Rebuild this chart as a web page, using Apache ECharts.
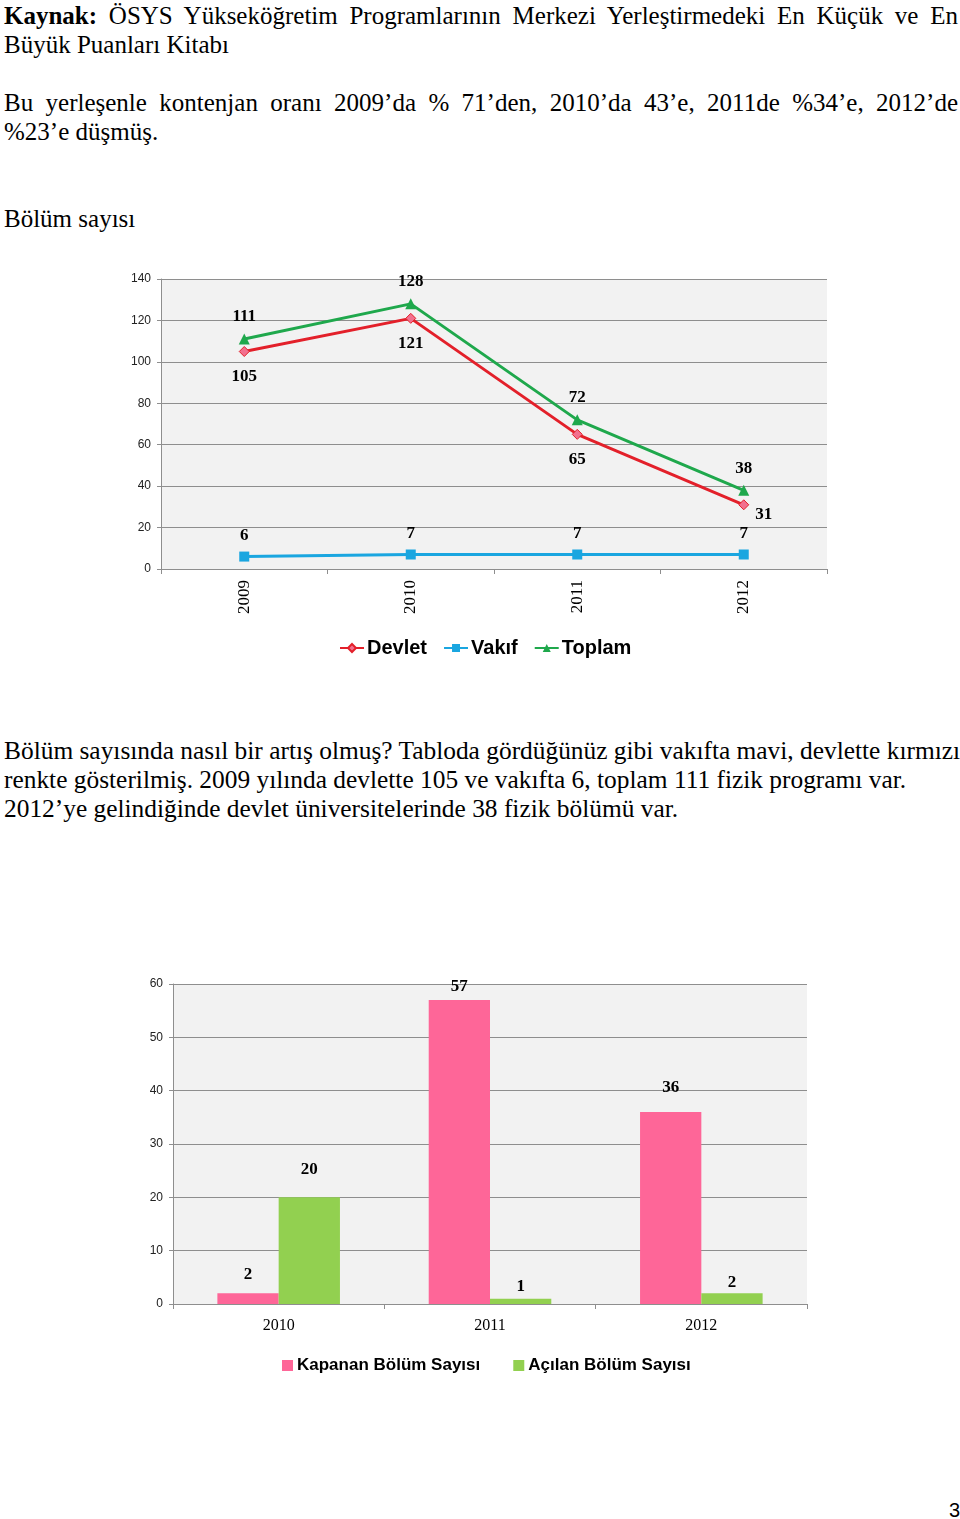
<!DOCTYPE html>
<html>
<head>
<meta charset="utf-8">
<script src="https://cdn.jsdelivr.net/npm/echarts@6/dist/echarts.min.js"></script>
<style>
  html, body { margin:0; padding:0; background:#fff; }
  body { width:960px; height:1519px; position:relative; overflow:hidden; }
  .t { position:absolute; left:4px; width:954px; font-family:"Liberation Serif","Times New Roman",serif; font-size:25px; line-height:29px; color:#000; white-space:nowrap; }
  .b { font-size:25.4px; }
  .j { text-align:justify; text-align-last:justify; white-space:normal; }
  #c1 { position:absolute; left:0; top:260px; width:960px; height:420px; }
  #c2 { position:absolute; left:0; top:960px; width:960px; height:430px; }
  .pn { position:absolute; left:949px; top:1499px; font-family:"Liberation Sans",Arial,sans-serif; font-size:20px; }
</style>
</head>
<body>
<div class="t j" style="top:1px;"><b>Kaynak:</b> ÖSYS Yükseköğretim Programlarının Merkezi Yerleştirmedeki En Küçük ve En</div>
<div class="t" style="top:30px;">Büyük Puanları Kitabı</div>
<div class="t j" style="top:88px;">Bu yerleşenle kontenjan oranı 2009’da % 71’den, 2010’da 43’e, 2011de %34’e, 2012’de</div>
<div class="t" style="top:117px;">%23’e düşmüş.</div>
<div class="t" style="top:204px;">Bölüm sayısı</div>
<div id="c1"></div>
<div class="t b" style="top:736px;">Bölüm sayısında nasıl bir artış olmuş? Tabloda gördüğünüz gibi vakıfta mavi, devlette kırmızı</div>
<div class="t b" style="top:765px;">renkte gösterilmiş. 2009 yılında devlette 105 ve vakıfta 6, toplam 111 fizik programı var.</div>
<div class="t b" style="top:794px;">2012’ye gelindiğinde devlet üniversitelerinde 38 fizik bölümü var.</div>
<div id="c2"></div>
<div class="pn">3</div>
<script>
// ---- Chart 1 data ----
var years1 = ['2009', '2010', '2011', '2012'];
var devlet = [105, 121, 65, 31];
var vakif = [6, 7, 7, 7];
var toplam = [111, 128, 72, 38];
var yTicks1 = { min: 0, max: 140, interval: 20 };

// ---- Chart 2 data ----
var years2 = ['2010', '2011', '2012'];
var kapanan = [2, 57, 36];
var acilan = [20, 1, 2];
var yTicks2 = { min: 0, max: 60, interval: 10 };

var serif = '"Liberation Serif","Times New Roman",serif';
var sans = '"Liberation Sans",Arial,sans-serif';
var legendFont = '"Liberation Sans",Arial,sans-serif';
var gridCol = '#8e8e8e';
var axisCol = '#8e8e8e';

var valLabel = { show: true, fontFamily: serif, fontWeight: 'bold', fontSize: 17, color: '#000' };

var c1 = echarts.init(document.getElementById('c1'), null, { renderer: 'canvas' });
c1.setOption({
  animation: false,
  grid: { left: 161, top: 19, width: 666, height: 290, show: true, backgroundColor: '#f2f2f2', borderWidth: 0 },
  legend: {
    top: 373, left: 334, itemWidth: 24, itemHeight: 10, itemGap: 16,
    textStyle: { fontFamily: legendFont, fontWeight: 'bold', fontSize: 20, color: '#000', padding: [0, 0, 0, -2] },
    data: ['Devlet', 'Vakıf', 'Toplam']
  },
  xAxis: {
    type: 'category', data: years1, boundaryGap: true,
    axisLine: { lineStyle: { color: axisCol } },
    axisTick: { show: true, length: 5, lineStyle: { color: axisCol } },
    axisLabel: { rotate: 90, margin: 11, fontFamily: serif, fontSize: 17, color: '#000' }
  },
  yAxis: {
    type: 'value', min: yTicks1.min, max: yTicks1.max, interval: yTicks1.interval,
    axisLine: { show: true, lineStyle: { color: axisCol } },
    axisTick: { show: true, length: 4, lineStyle: { color: axisCol } },
    axisLabel: { margin: 10, fontFamily: sans, fontSize: 12, color: '#222' },
    splitLine: { lineStyle: { color: gridCol, width: 1 } }
  },
  series: [
    {
      name: 'Devlet', type: 'line', data: devlet.map(function (v, i) {
        return i === 3 ? { value: v, label: { position: 'right', offset: [0, 10], distance: 6 } } : v;
      }),
      symbol: 'diamond', symbolSize: 10,
      lineStyle: { color: '#e3202a', width: 3 },
      itemStyle: { color: '#f2708e', borderColor: '#e3202a', borderWidth: 1 },
      label: Object.assign({}, valLabel, { position: 'bottom', distance: 11 })
    },
    {
      name: 'Vakıf', type: 'line', data: vakif,
      symbol: 'rect', symbolSize: 10,
      lineStyle: { color: '#1aa6e0', width: 3 },
      itemStyle: { color: '#1aa6e0' },
      label: Object.assign({}, valLabel, { position: 'top', distance: 7 })
    },
    {
      name: 'Toplam', type: 'line', data: toplam,
      symbol: 'triangle', symbolSize: 11,
      lineStyle: { color: '#1fa84c', width: 3 },
      itemStyle: { color: '#1fa84c' },
      label: Object.assign({}, valLabel, { position: 'top', distance: 8 })
    }
  ]
});

var kapDist = [10, 5, 16];
var acDist = [19, 4, 2];
var c2 = echarts.init(document.getElementById('c2'), null, { renderer: 'canvas' });
c2.setOption({
  animation: false,
  grid: { left: 173, top: 24, width: 634, height: 320, show: true, backgroundColor: '#f2f2f2', borderWidth: 0 },
  legend: {
    top: 392, left: 277, itemWidth: 11, itemHeight: 11, itemGap: 33,
    icon: 'rect',
    textStyle: { fontFamily: legendFont, fontWeight: 'bold', fontSize: 17, color: '#000', padding: [0, 0, 0, -1] },
    data: ['Kapanan Bölüm Sayısı', 'Açılan Bölüm Sayısı']
  },
  xAxis: {
    type: 'category', data: years2, boundaryGap: true,
    axisLine: { lineStyle: { color: axisCol } },
    axisTick: { show: true, length: 5, lineStyle: { color: axisCol } },
    axisLabel: { margin: 14, fontFamily: serif, fontSize: 16, color: '#000' }
  },
  yAxis: {
    type: 'value', min: yTicks2.min, max: yTicks2.max, interval: yTicks2.interval,
    axisLine: { show: true, lineStyle: { color: axisCol } },
    axisTick: { show: true, length: 4, lineStyle: { color: axisCol } },
    axisLabel: { margin: 10, fontFamily: sans, fontSize: 12, color: '#222' },
    splitLine: { lineStyle: { color: gridCol, width: 1 } }
  },
  series: [
    {
      name: 'Kapanan Bölüm Sayısı', type: 'bar', barGap: '0%', barCategoryGap: '42%',
      data: kapanan.map(function (v, i) { return { value: v, label: { distance: kapDist[i] } }; }),
      itemStyle: { color: '#fe6698' },
      label: Object.assign({}, valLabel, { position: 'top' })
    },
    {
      name: 'Açılan Bölüm Sayısı', type: 'bar', barGap: '0%', barCategoryGap: '42%',
      data: acilan.map(function (v, i) { return { value: v, label: { distance: acDist[i] } }; }),
      itemStyle: { color: '#92d050' },
      label: Object.assign({}, valLabel, { position: 'top' })
    }
  ]
});
</script>
</body>
</html>
